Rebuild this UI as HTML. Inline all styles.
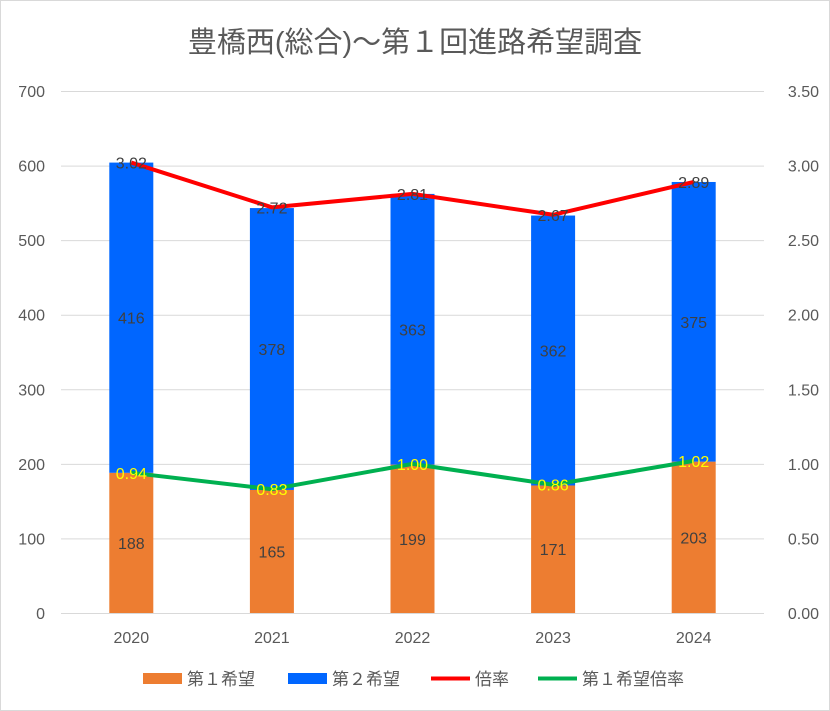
<!DOCTYPE html>
<html><head><meta charset="utf-8">
<style>
html,body{margin:0;padding:0;background:#fff;}
svg{display:block;font-family:"Liberation Sans","Noto Sans CJK JP",sans-serif;}
</style></head>
<body>
<svg id="chart" width="830" height="711" viewBox="0 0 830 711">
<rect x="0.5" y="0.5" width="829" height="710" fill="#fff" stroke="#d9d9d9"/>
<text x="415" y="52" text-anchor="middle" font-size="29" fill="#595959">豊橋西(総合)～第１回進路希望調査</text>
<g id="grid"></g><g id="bars"></g><g id="lines"></g><g id="labels"></g>
<g id="legend">
<rect x="143" y="673" width="39" height="11" fill="#ed7d31"/>
<text x="187" y="685" font-size="17" fill="#595959">第１希望</text>
<rect x="288" y="673" width="39" height="11" fill="#0066ff"/>
<text x="332" y="685" font-size="17" fill="#595959">第２希望</text>
<line x1="431" y1="678.5" x2="470" y2="678.5" stroke="#ff0000" stroke-width="4"/>
<text x="475" y="685" font-size="17" fill="#595959">倍率</text>
<line x1="538" y1="678.5" x2="577" y2="678.5" stroke="#00b050" stroke-width="4"/>
<text x="582" y="685" font-size="17" fill="#595959">第１希望倍率</text>
</g>
</svg>
<script>
const categories = ["2020","2021","2022","2023","2024"];
const firstChoice = [188,165,199,171,203];
const secondChoice = [416,378,363,362,375];
const ratio = [3.02,2.72,2.81,2.67,2.89];
const firstRatio = [0.94,0.83,1.00,0.86,1.02];
const leftTicks = [0,100,200,300,400,500,600,700];
const rightTicks = ["0.00","0.50","1.00","1.50","2.00","2.50","3.00","3.50"];

const NS="http://www.w3.org/2000/svg";
const plotL=61, plotR=764, y0=613, yTop=91;
const yL=v=>y0-(v/700)*(y0-yTop);
const yR=v=>y0-(v/3.5)*(y0-yTop);
const step=(plotR-plotL)/categories.length;
const xC=i=>plotL+step*(i+0.5);
const bw=44;
function mk(tag,attrs,parent,text){const e=document.createElementNS(NS,tag);for(const k in attrs)e.setAttribute(k,attrs[k]);if(text!==undefined)e.textContent=text;document.getElementById(parent).appendChild(e);return e;}

leftTicks.forEach((t,i)=>{
  const y=yL(t);
  const g=mk("line",{x1:plotL,x2:plotR,y1:y+0.5,y2:y+0.5,stroke:"#d9d9d9","stroke-width":1},"grid");
  
  
  const a=mk("text",{x:45,y:y+6,"text-anchor":"end","font-size":16,fill:"#595959"},"grid",String(t));
  
  
  const b=mk("text",{x:819,y:y+6,"text-anchor":"end","font-size":16,fill:"#595959"},"grid",rightTicks[i]);
  
  
});
categories.forEach((c,i)=>{
  const t=mk("text",{x:xC(i),y:643,"text-anchor":"middle","font-size":16,fill:"#595959"},"grid",c);
  
  
  const f=firstChoice[i], s=secondChoice[i];
  const r1=mk("rect",{x:xC(i)-bw/2,y:yL(f),width:bw,height:y0-yL(f),fill:"#ed7d31"},"bars");
  
  
  const r2=mk("rect",{x:xC(i)-bw/2,y:yL(f+s),width:bw,height:yL(f)-yL(f+s),fill:"#0066ff"},"bars");
  
  
  const l1=mk("text",{x:xC(i),y:(yL(f)+y0)/2+6,"text-anchor":"middle","font-size":16,fill:"#404040"},"labels",String(f));
  
  
  const l2=mk("text",{x:xC(i),y:(yL(f)+yL(f+s))/2+6,"text-anchor":"middle","font-size":16,fill:"#404040"},"labels",String(s));
  
  
});
const red=mk("polyline",{points:ratio.map((v,i)=>xC(i)+","+yR(v)).join(" "),fill:"none",stroke:"#ff0000","stroke-width":4,"stroke-linejoin":"round"},"lines");


const green=mk("polyline",{points:firstRatio.map((v,i)=>xC(i)+","+yR(v)).join(" "),fill:"none",stroke:"#00b050","stroke-width":4,"stroke-linejoin":"round"},"lines");


ratio.forEach((v,i)=>{
  const t=mk("text",{x:xC(i),y:yR(v)+6,"text-anchor":"middle","font-size":16,fill:"#404040"},"labels",v.toFixed(2));
  
  
});
firstRatio.forEach((v,i)=>{
  const t=mk("text",{x:xC(i),y:yR(v)+6,"text-anchor":"middle","font-size":16,fill:"#ffff00"},"labels",v.toFixed(2));
  
  
});
</script>
</body></html>
